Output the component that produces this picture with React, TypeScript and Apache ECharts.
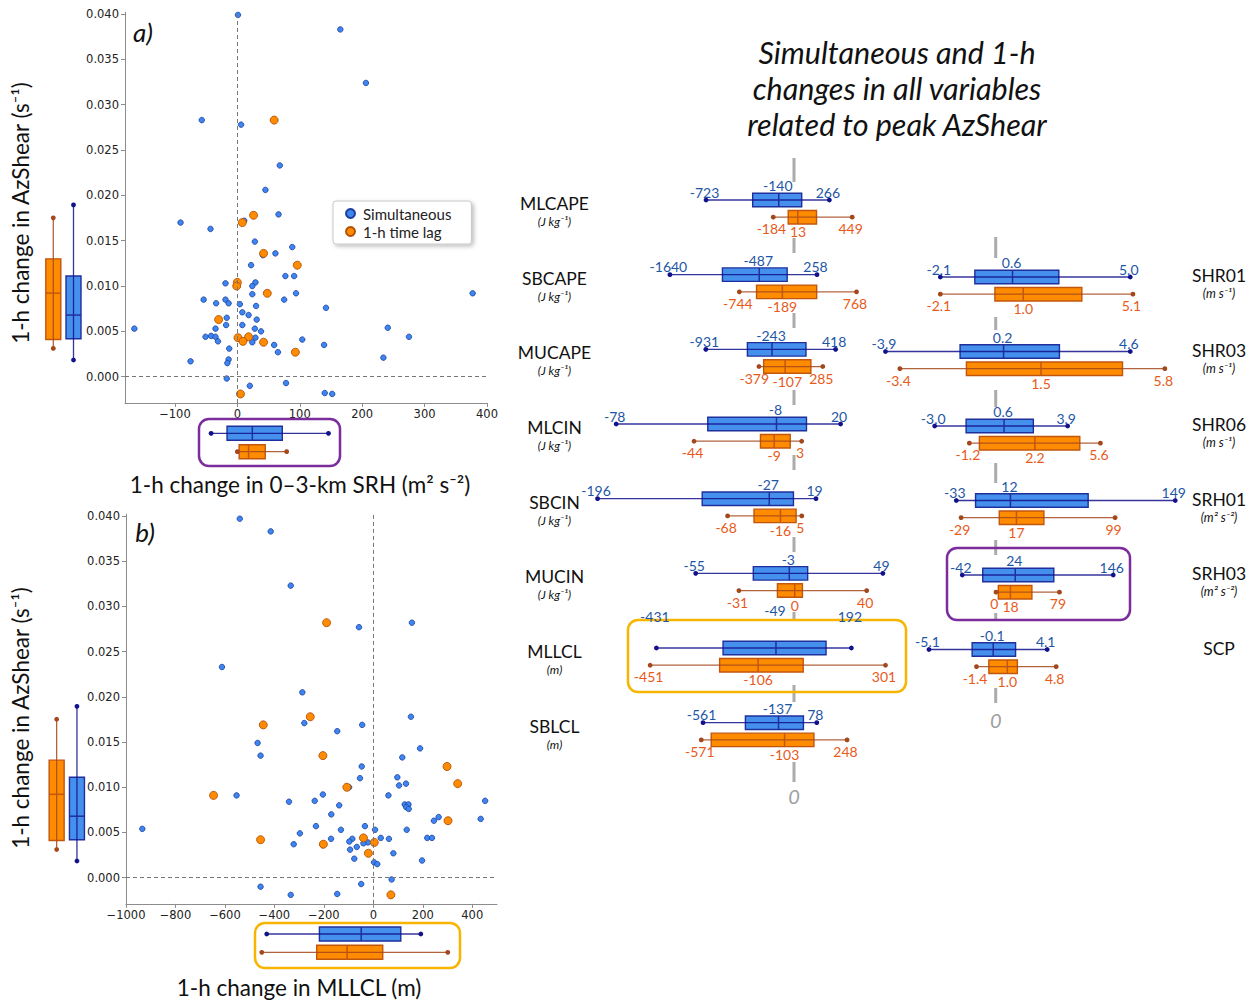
import React, { useEffect, useRef } from 'react';
import * as echarts from 'echarts';

// ---------------- DATA ----------------
// Panel a: 1-h change in 0-3-km SRH (x) vs 1-h change in AzShear (y)
const srhSimPoints: [number, number][] = [
  [1, 0.0399], [165, 0.0383], [206, 0.0324], [-57, 0.0283], [6, 0.0278], [68, 0.0233], [45, 0.0206],
  [-91, 0.017], [66, 0.0179], [-43, 0.0163], [11, 0.0172], [28, 0.0149], [88, 0.0143], [61, 0.0136],
  [41, 0.0134], [22, 0.0123], [77, 0.0111], [91, 0.0111], [-19, 0.0103], [29, 0.0104], [24, 0.01],
  [377, 0.0092], [94, 0.0092], [24, 0.0091], [-54, 0.0085], [-19, 0.0085], [-34, 0.0081], [-14, 0.0081],
  [75, 0.0085], [4, 0.008], [30, 0.0078], [142, 0.0076], [8, 0.0071], [18, 0.0068], [-17, 0.0065],
  [31, 0.0063], [-18, 0.0057], [8, 0.0057], [241, 0.0054], [-165, 0.0053], [-35, 0.0053], [28, 0.0053],
  [38, 0.005], [-51, 0.0044], [-42, 0.0045], [-35, 0.0044], [275, 0.0044], [29, 0.0043], [104, 0.0041],
  [-31, 0.0039], [24, 0.0038], [59, 0.0035], [139, 0.0035], [-13, 0.0031], [65, 0.0027], [234, 0.0021],
  [-75, 0.0017], [-14, 0.0019], [-16, 0.0015], [-17, -0.0002], [20, -0.001], [78, -0.0007], [140, -0.0018],
  [152, -0.0019],
];
const srhLagPoints: [number, number][] = [
  [59, 0.0283], [26, 0.0178], [8, 0.017], [42, 0.0136], [96, 0.0123], [0, 0.0104], [-1, 0.01],
  [48, 0.0092], [-30, 0.0063], [1, 0.0043], [18, 0.0044], [9, 0.0039], [42, 0.0038], [93, 0.0027], [5, -0.0019],
];
// Panel b: 1-h change in MLLCL (x) vs 1-h change in AzShear (y)
const lclSimPoints: [number, number][] = [
  [-540, 0.0397], [-415, 0.0383], [-334, 0.0323], [-58, 0.0277], [156, 0.0282], [-612, 0.0233], [-287, 0.0205],
  [-279, 0.0171], [-45, 0.0169], [152, 0.0178], [-146, 0.0162], [-468, 0.0149], [-456, 0.0135], [189, 0.0143],
  [117, 0.0133], [-47, 0.0123], [-54, 0.011], [97, 0.0111], [104, 0.0102], [132, 0.0104], [-98, 0.01],
  [-553, 0.0091], [-204, 0.0092], [61, 0.0091], [-341, 0.0084], [-237, 0.0085], [452, 0.0085], [-138, 0.008],
  [127, 0.0081], [142, 0.0081], [133, 0.0078], [143, 0.0076], [-170, 0.007], [264, 0.0067], [245, 0.0063],
  [434, 0.0065], [-232, 0.0057], [-34, 0.0057], [-934, 0.0054], [-131, 0.0053], [7, 0.0053], [135, 0.0053],
  [-297, 0.0049], [30, 0.0044], [218, 0.0044], [237, 0.0044], [-171, 0.0043], [-85, 0.0043], [63, 0.0043],
  [-97, 0.004], [-22, 0.0039], [-40, 0.0038], [-204, 0.0036], [-322, 0.0037], [-67, 0.0034], [-94, 0.0031],
  [81, 0.0027], [-77, 0.0021], [197, 0.0019], [3, 0.0017], [16, 0.0015], [-456, -0.001], [-49, -0.0007],
  [74, -0.0002], [-334, -0.0019], [-146, -0.0018],
];
const lclLagPoints: [number, number][] = [
  [-189, 0.0282], [-255, 0.0178], [-445, 0.0169], [-204, 0.0135], [298, 0.0123], [-107, 0.01], [341, 0.0104],
  [-646, 0.0091], [302, 0.0063], [-456, 0.0042], [-40, 0.0044], [4, 0.0039], [-202, 0.0037], [-20, 0.0027], [71, -0.0019],
];

// Tick labels
const azShearTicks = [0, 0.005, 0.01, 0.015, 0.02, 0.025, 0.03, 0.035, 0.04];
const srhTicks = [-100, 0, 100, 200, 300, 400];
const lclTicks = [-1000, -800, -600, -400, -200, 0, 200, 400];

// AzShear box plots: [min, q1, median, q3, max]
const azShearSimBox = [0.00184, 0.00419, 0.0068, 0.0111, 0.01895];
const azShearLagBox = [0.00312, 0.00411, 0.00922, 0.013, 0.01752];

// Variable box plots (simultaneous = blue, 1-h time lag = orange)
const rowVariables = ['MLCAPE', 'SBCAPE', 'MUCAPE', 'MLCIN', 'SBCIN', 'MUCIN', 'MLLCL', 'SBLCL',
  'SHR01', 'SHR03', 'SHR06', 'SRH01', 'SRH03', 'SCP'];
const rowUnits = ['(J kg⁻¹)', '(J kg⁻¹)', '(J kg⁻¹)', '(J kg⁻¹)', '(J kg⁻¹)', '(J kg⁻¹)', '(m)', '(m)',
  '(m s⁻¹)', '(m s⁻¹)', '(m s⁻¹)', '(m² s⁻²)', '(m² s⁻²)', ''];
const rowDecimals = [0, 0, 0, 0, 0, 0, 0, 0, 1, 1, 1, 0, 0, 1];
const simMin = [-723, -1640, -931, -78, -196, -55, -431, -561, -2.1, -3.9, -3.0, -33, -42, -5.1];
const simQ1 = [-349, -962, -499, -38, -93, -23, -218, -323, -0.81, -1.31, -1.37, -17, -16.5, -1.74];
const simMedian = [-140, -487, -243, -8, -27, -3, -49, -137, 0.6, 0.2, 0.6, 12, 24, -0.1];
const simQ3 = [44, -127, 110, 5.1, -3.2, 7.2, 111, 3, 2.33, 2.14, 2.12, 76.6, 72, 1.64];
const simMax = [266, 258, 418, 20, 19, 49, 192, 78, 5.0, 4.6, 3.9, 149, 146, 4.1];
const lagMin = [-184, -744, -379, -44, -68, -31, -451, -571, -2.1, -3.4, -1.2, -29, 0, -1.4];
const lagQ1 = [-64, -522, -330, -15, -42, -9.6, -229, -515, -0.06, -1.09, -0.68, 2.7, 2.9, -0.44];
const lagMedian = [13, -189, -107, -9, -16, 0, -106, -103, 1.0, 1.5, 2.2, 17, 18, 1.0];
const lagQ3 = [163, 254, 161, -2, -0.6, 4.3, 38, 62, 3.19, 4.33, 4.53, 39.8, 44.7, 1.78];
const lagMax = [449, 768, 285, 3, 5, 40, 301, 248, 5.1, 5.8, 5.6, 99, 79, 4.8];

// ---------------- LAYOUT / STYLE ----------------
const W = 1253;
const H = 1000;
const FONT = 'Lato, "Open Sans", "Noto Sans", sans-serif';
const TICK_FONT = '"DejaVu Sans", sans-serif';
const BLUE = { fill: '#4690ED', edge: '#1F2F9C', whisker: '#12128C', text: '#1E56A6', dot: '#3D86F2', dotEdge: '#1C3E9A' };
const ORANGE = { fill: '#FF8C00', edge: '#C2560E', whisker: '#A4481C', text: '#E85A1A', dot: '#FF8C00', dotEdge: '#B3500A' };
const AXIS_GREY = '#8c8c8c';
const LABEL_SIZE = 14;

// per-row horizontal scale (pixel of zero, pixels per unit)
const rowColumn = [0, 0, 0, 0, 0, 0, 0, 0, 1, 1, 1, 1, 1, 1];
const rowZeroPx = [796.2, 797.0, 795.4, 794.8, 796.7, 794.7, 791.3, 802.9, 996.5, 997.8, 992.5, 996.0, 996.0, 994.5];
const rowPxPerUnit = [0.1247, 0.0775, 0.0962, 2.29, 1.016, 1.8, 0.313, 0.178, 26.75, 28.8, 19.27, 1.203, 0.803, 12.85];
const rowSimLabelShift = [0, 0, 0, 0, 0, 0, -23.5, 0, 0, 0, 0, 0, 0, 0];
const columns = [
  { left: 590, width: 320, firstY: 200, step: 74.67, nameX: 554.5, nameDy: 3.5, unitDy: 21.5, unitSize: 12, lineX: 794, zeroLabelY: 796,
    segments: [[158, 182], [238, 253], [313, 328], [390, 405], [455, 470], [537, 552], [612, 620], [685, 702], [762, 782]] },
  { left: 870, width: 320, firstY: 277, step: 74.5, nameX: 1219, nameDy: -1.5, unitDy: 16.5, unitSize: 12.5, lineX: 995.7, zeroLabelY: 720,
    segments: [[237, 258], [317, 330], [390, 407], [463, 483], [540, 555], [613, 620], [688, 703]] },
];

const fmtMinus = (v: number) => (v < 0 ? '\u2212' + Math.abs(v) : String(v));
const estWidth = (s: string) => {
  let w = 0;
  for (const ch of s) w += ch === '-' ? 0.33 : ch === '.' ? 0.26 : 0.58;
  return w * LABEL_SIZE;
};

type BoxOpts = { vertical: boolean; boxSize: number; labels?: { decimals: number; simShift: number } };

function boxRenderer(opts: BoxOpts) {
  return (params: any, api: any) => {
    const cat = api.value(0) as number;
    const vals = [1, 2, 3, 4, 5].map((i) => api.value(i) as number);
    const kind = api.value(6) as number; // 0 = simultaneous, 1 = lag
    const c = kind === 0 ? BLUE : ORANGE;
    const h = opts.boxSize / 2;
    const children: any[] = [];
    if (!opts.vertical) {
      const pts = vals.map((v) => api.coord([v, cat]));
      const xs = pts.map((p: number[]) => p[0]);
      const y = pts[0][1];
      children.push({ type: 'rect', shape: { x: xs[1], y: y - h, width: xs[3] - xs[1], height: 2 * h },
        style: { fill: c.fill, stroke: c.edge, lineWidth: 1.4 } });
      children.push({ type: 'line', shape: { x1: xs[0], y1: y, x2: xs[4], y2: y },
        style: { stroke: c.whisker, lineWidth: 1.3, opacity: 0.85 } });
      children.push({ type: 'line', shape: { x1: xs[2], y1: y - h, x2: xs[2], y2: y + h },
        style: { stroke: c.edge, lineWidth: 1.5 } });
      children.push({ type: 'circle', shape: { cx: xs[0], cy: y, r: 2.4 }, style: { fill: c.whisker } });
      children.push({ type: 'circle', shape: { cx: xs[4], cy: y, r: 2.4 }, style: { fill: c.whisker } });
      if (opts.labels) {
        const d = opts.labels.decimals;
        const sMin = vals[0].toFixed(d);
        const sMed = vals[2].toFixed(d);
        const sMax = vals[4].toFixed(d);
        let cMin = xs[0] - 1.5;
        let cMed = xs[2] - (kind === 0 ? 1 : 0);
        let cMax = xs[4] - 1.5;
        const gap = 4;
        let ov = cMin + estWidth(sMin) / 2 + gap - (cMed - estWidth(sMed) / 2);
        if (ov > 0) { cMin -= ov * 0.6; cMed += ov * 0.4; }
        ov = cMed + estWidth(sMed) / 2 + gap - (cMax - estWidth(sMax) / 2);
        if (ov > 0) { cMax += ov * 0.6; cMed -= ov * 0.4; }
        const t = (x: number, yy: number, s: string, va: string) => ({
          type: 'text', x, y: yy,
          style: { text: s, fill: c.text, fontSize: LABEL_SIZE, fontFamily: FONT, textAlign: 'center', textVerticalAlign: va },
        });
        if (kind === 0) {
          const sh = opts.labels.simShift;
          children.push(t(cMin, y - 1 + sh, sMin, 'bottom'));
          children.push(t(cMax, y - 1 + sh, sMax, 'bottom'));
          children.push(t(cMed, y - h - 0.5 + sh, sMed, 'bottom'));
        } else {
          children.push(t(cMin, y + 4.5, sMin, 'top'));
          children.push(t(cMax, y + 4.5, sMax, 'top'));
          children.push(t(cMed, y + h + 1, sMed, 'top'));
        }
      }
    } else {
      const pts = vals.map((v) => api.coord([cat, v]));
      const ys = pts.map((p: number[]) => p[1]);
      const x = pts[0][0];
      children.push({ type: 'rect', shape: { x: x - h, y: ys[3], width: 2 * h, height: ys[1] - ys[3] },
        style: { fill: c.fill, stroke: c.edge, lineWidth: 1.4 } });
      children.push({ type: 'line', shape: { x1: x, y1: ys[0], x2: x, y2: ys[4] },
        style: { stroke: c.whisker, lineWidth: 1.3, opacity: 0.85 } });
      children.push({ type: 'line', shape: { x1: x - h, y1: ys[2], x2: x + h, y2: ys[2] },
        style: { stroke: c.edge, lineWidth: 1.5 } });
      children.push({ type: 'circle', shape: { cx: x, cy: ys[0], r: 2.4 }, style: { fill: c.whisker } });
      children.push({ type: 'circle', shape: { cx: x, cy: ys[4], r: 2.4 }, style: { fill: c.whisker } });
    }
    return { type: 'group', children };
  };
}

function scatterAxes(gridIndex: number, xMin: number, xMax: number, xTicks: number[]) {
  const axisLine = { show: true, onZero: false, lineStyle: { color: AXIS_GREY, width: 1 } };
  const xAxis = {
    type: 'value', gridIndex, min: xMin, max: xMax,
    axisLine,
    axisTick: { show: true, inside: false, length: 4, customValues: xTicks, lineStyle: { color: AXIS_GREY } },
    axisLabel: { customValues: xTicks, margin: 5, fontFamily: TICK_FONT, fontSize: 11.5, color: '#222', formatter: (v: number) => fmtMinus(v) },
    splitLine: { show: false },
  };
  const yAxis = {
    type: 'value', gridIndex, min: -0.0029, max: 0.0402,
    axisLine,
    axisTick: { show: true, inside: false, length: 4, customValues: azShearTicks, lineStyle: { color: AXIS_GREY } },
    axisLabel: { customValues: azShearTicks, margin: 6, fontFamily: TICK_FONT, fontSize: 11.5, color: '#222', formatter: (v: number) => v.toFixed(3) },
    splitLine: { show: false },
  };
  return { xAxis, yAxis };
}

function scatterSeries(gridIndex: number, sim: [number, number][], lag: [number, number][]) {
  return [
    {
      type: 'scatter', name: 'Simultaneous', xAxisIndex: gridIndex, yAxisIndex: gridIndex, data: sim,
      symbolSize: 5.5, itemStyle: { color: BLUE.dot, borderColor: BLUE.dotEdge, borderWidth: 0.8, opacity: 1 }, z: 3,
      markLine: {
        silent: true, symbol: 'none', label: { show: false },
        lineStyle: { color: '#777', type: [4, 3], width: 1 },
        data: [{ xAxis: 0 }, { yAxis: 0 }],
      },
    },
    {
      type: 'scatter', name: '1-h time lag', xAxisIndex: gridIndex, yAxisIndex: gridIndex, data: lag,
      symbolSize: 8, itemStyle: { color: ORANGE.dot, borderColor: ORANGE.dotEdge, borderWidth: 0.9, opacity: 1 }, z: 4,
    },
  ];
}

function buildOption() {
  const grids: any[] = [];
  const xAxes: any[] = [];
  const yAxes: any[] = [];
  const series: any[] = [];
  const graphics: any[] = [];
  const hidden = { show: false };

  // 0: scatter a, 1: scatter b
  grids.push({ left: 125, top: 12.2, width: 362, height: 390.8 });
  grids.push({ left: 126, top: 514.2, width: 371, height: 389.7 });
  const a = scatterAxes(0, -180, 400, srhTicks);
  const b = scatterAxes(1, -1000, 500, lclTicks);
  xAxes.push(a.xAxis, b.xAxis);
  yAxes.push(a.yAxis, b.yAxis);
  series.push(...scatterSeries(0, srhSimPoints, srhLagPoints));
  series.push(...scatterSeries(1, lclSimPoints, lclLagPoints));

  // 2,3: vertical AzShear boxes
  grids.push({ left: 43.2, top: 12.2, width: 40.4, height: 390.8 });
  grids.push({ left: 46.5, top: 514.2, width: 40.6, height: 389.7 });
  [2, 3].forEach((gi) => {
    xAxes.push({ type: 'category', gridIndex: gi, data: ['1-h time lag', 'Simultaneous'], ...hidden });
    yAxes.push({ type: 'value', gridIndex: gi, min: -0.0029, max: 0.0402, ...hidden });
    series.push({
      type: 'custom', xAxisIndex: gi, yAxisIndex: gi,
      renderItem: boxRenderer({ vertical: true, boxSize: 15 }),
      encode: { x: 0, y: [1, 2, 3, 4, 5] },
      data: [[0, ...azShearLagBox, 1], [1, ...azShearSimBox, 0]],
    });
  });

  // 4,5: horizontal boxes beneath scatter plots (SRH03 and MLLCL)
  const srh = rowVariables.indexOf('SRH03');
  const lcl = rowVariables.indexOf('MLLCL');
  grids.push({ left: 125, top: 424.1, width: 362, height: 36.8 });
  grids.push({ left: 126, top: 924.85, width: 371, height: 36.6 });
  [[4, -180, 400, srh], [5, -1000, 500, lcl]].forEach(([gi, mn, mx, r]) => {
    xAxes.push({ type: 'value', gridIndex: gi, min: mn, max: mx, ...hidden });
    yAxes.push({ type: 'category', gridIndex: gi, inverse: true, data: ['Simultaneous', '1-h time lag'], ...hidden });
    series.push({
      type: 'custom', xAxisIndex: gi, yAxisIndex: gi,
      renderItem: boxRenderer({ vertical: false, boxSize: 14 }),
      encode: { x: [1, 2, 3, 4, 5], y: 0 },
      data: [
        [0, simMin[r], simQ1[r], simMedian[r], simQ3[r], simMax[r], 0],
        [1, lagMin[r], lagQ1[r], lagMedian[r], lagQ3[r], lagMax[r], 1],
      ],
    });
  });

  // variable rows
  const colCount = [0, 0];
  rowVariables.forEach((name, r) => {
    const col = columns[rowColumn[r]];
    const k = colCount[rowColumn[r]]++;
    const blueY = col.firstY + k * col.step;
    const gi = grids.length;
    grids.push({ left: col.left, top: blueY - 8.6, width: col.width, height: 34.4 });
    xAxes.push({
      type: 'value', gridIndex: gi,
      min: (col.left - rowZeroPx[r]) / rowPxPerUnit[r],
      max: (col.left + col.width - rowZeroPx[r]) / rowPxPerUnit[r],
      ...hidden,
    });
    yAxes.push({ type: 'category', gridIndex: gi, inverse: true, data: ['Simultaneous', '1-h time lag'], ...hidden });
    series.push({
      type: 'custom', xAxisIndex: gi, yAxisIndex: gi,
      renderItem: boxRenderer({ vertical: false, boxSize: 13.5, labels: { decimals: rowDecimals[r], simShift: rowSimLabelShift[r] } }),
      encode: { x: [1, 2, 3, 4, 5], y: 0 },
      data: [
        [0, simMin[r], simQ1[r], simMedian[r], simQ3[r], simMax[r], 0],
        [1, lagMin[r], lagQ1[r], lagMedian[r], lagQ3[r], lagMax[r], 1],
      ],
      z: 3,
    });
    graphics.push({
      type: 'text', x: col.nameX, y: blueY + col.nameDy,
      style: { text: name, fill: '#111', fontSize: 17.5, fontFamily: FONT, textAlign: 'center', textVerticalAlign: 'middle' },
    });
    if (rowUnits[r]) {
      graphics.push({
        type: 'text', x: col.nameX, y: blueY + col.unitDy,
        style: { text: rowUnits[r], fill: '#111', fontSize: col.unitSize, fontStyle: 'italic', fontFamily: FONT, textAlign: 'center', textVerticalAlign: 'middle' },
      });
    }
  });

  // zero reference segments and labels
  columns.forEach((col) => {
    col.segments.forEach(([y1, y2]) => {
      graphics.push({ type: 'line', z: 0, shape: { x1: col.lineX, y1, x2: col.lineX, y2 }, style: { stroke: '#ababab', lineWidth: 3 } });
    });
    graphics.push({
      type: 'text', x: col.lineX, y: col.zeroLabelY,
      style: { text: '0', fill: '#a0a0a0', fontSize: 20, fontStyle: 'italic', fontFamily: FONT, textAlign: 'center', textVerticalAlign: 'middle' },
    });
  });

  // highlight frames
  const frame = (x: number, y: number, w: number, h: number, color: string) => ({
    type: 'rect', z: 1, shape: { x, y, width: w, height: h, r: 10 }, style: { fill: 'none', stroke: color, lineWidth: 2.5 },
  });
  graphics.push(frame(199, 419, 141, 47, '#7B2D9E'));
  graphics.push(frame(947, 548, 183, 72, '#7B2D9E'));
  graphics.push(frame(255, 923, 205, 45, '#F8B500'));
  graphics.push(frame(628, 620, 278, 72, '#F8B500'));

  // titles and axis names
  const txt = (text: string, x: number, y: number, size: number, extra: any = {}) => ({
    type: 'text', x, y, ...(extra.rotation !== undefined ? { rotation: extra.rotation } : {}),
    style: { text, fill: '#111', fontSize: size, fontFamily: FONT, fontStyle: extra.italic ? 'italic' : 'normal',
      fontWeight: extra.weight || 'normal', textAlign: 'center', textVerticalAlign: 'middle' },
  });
  graphics.push(txt('Simultaneous and 1-h', 897, 52, 30.5, { italic: true }));
  graphics.push(txt('changes in all variables', 897, 88, 30.5, { italic: true }));
  graphics.push(txt('related to peak AzShear', 897, 124, 30.5, { italic: true }));
  graphics.push(txt('a)', 143, 32, 26, { italic: true }));
  graphics.push(txt('b)', 145, 532, 26, { italic: true }));
  graphics.push(txt('1-h change in 0–3-km SRH (m² s⁻²)', 300, 484, 22.5));
  graphics.push(txt('1-h change in MLLCL (m)', 299, 987, 22.5));
  graphics.push(txt('1-h change in AzShear (s⁻¹)', 20, 213, 22.5, { rotation: Math.PI / 2 }));
  graphics.push(txt('1-h change in AzShear (s⁻¹)', 20, 718, 22.5, { rotation: Math.PI / 2 }));

  return {
    animation: false,
    backgroundColor: '#fff',
    textStyle: { fontFamily: FONT },
    legend: {
      data: ['Simultaneous', '1-h time lag'], selectedMode: false,
      orient: 'vertical', left: 333, top: 201, itemWidth: 9, itemHeight: 9, itemGap: 3, icon: 'circle',
      padding: [5, 20, 5, 12], backgroundColor: '#fff', borderColor: '#c8c8c8', borderWidth: 1, borderRadius: 3,
      shadowBlur: 4, shadowColor: 'rgba(0,0,0,0.25)', shadowOffsetX: 2, shadowOffsetY: 2,
      textStyle: { fontFamily: FONT, fontSize: 15, color: '#222', padding: [0, 0, 0, 3] },
    },
    grid: grids,
    xAxis: xAxes,
    yAxis: yAxes,
    series,
    graphic: { elements: graphics },
  };
}

export default function App() {
  const ref = useRef<HTMLDivElement>(null);
  useEffect(() => {
    if (!ref.current) return;
    const chart = echarts.init(ref.current, null, { renderer: 'svg' });
    chart.setOption(buildOption() as any);
    return () => chart.dispose();
  }, []);
  return <div ref={ref} style={{ position: 'absolute', left: 0, top: 0, width: W, height: H, background: '#fff' }} />;
}
